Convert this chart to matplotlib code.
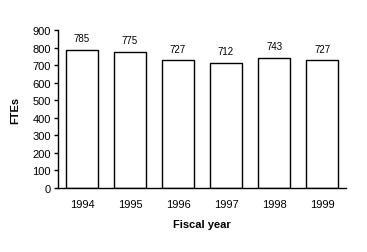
import numpy as np
from matplotlib import pyplot as plt

years = ['1994', '1995', '1996', '1997', '1998', '1999']
ftes = [785, 775, 727, 712, 743, 727]

plt.rcParams['font.family'] = ['Liberation Sans', 'DejaVu Sans']

fig = plt.figure(figsize=(3.67, 2.53), dpi=100)
ax = fig.add_axes([0.158, 0.253, 0.785, 0.624])

x = np.arange(len(years))
bars = ax.bar(x, ftes, width=0.66, color='white', edgecolor='black', linewidth=1.0)
for xi, v in zip(x, ftes):
	ax.annotate(str(v), (xi, v), xytext=(0, 5), textcoords='offset points',
		ha='center', va='bottom', fontsize=7)

ax.set_xlim(-0.5, len(years) - 0.5)
ax.set_ylim(0, 900)
ax.set_yticks(range(0, 901, 100))
ax.set_xticks(x)
ax.set_xticklabels(years)
ax.tick_params(axis='y', direction='out', length=3, width=1, labelsize=8, pad=2)
ax.tick_params(axis='x', length=0, labelsize=8, pad=8)
for s in ['top', 'right']:
	ax.spines[s].set_visible(False)
for s in ['left', 'bottom']:
	ax.spines[s].set_linewidth(1.0)
ax.set_xlabel('Fiscal year', fontsize=8, fontweight='bold', labelpad=7)
ax.set_ylabel('FTEs', fontsize=8, fontweight='bold', labelpad=9)

fig.savefig('out.png', dpi=100)
